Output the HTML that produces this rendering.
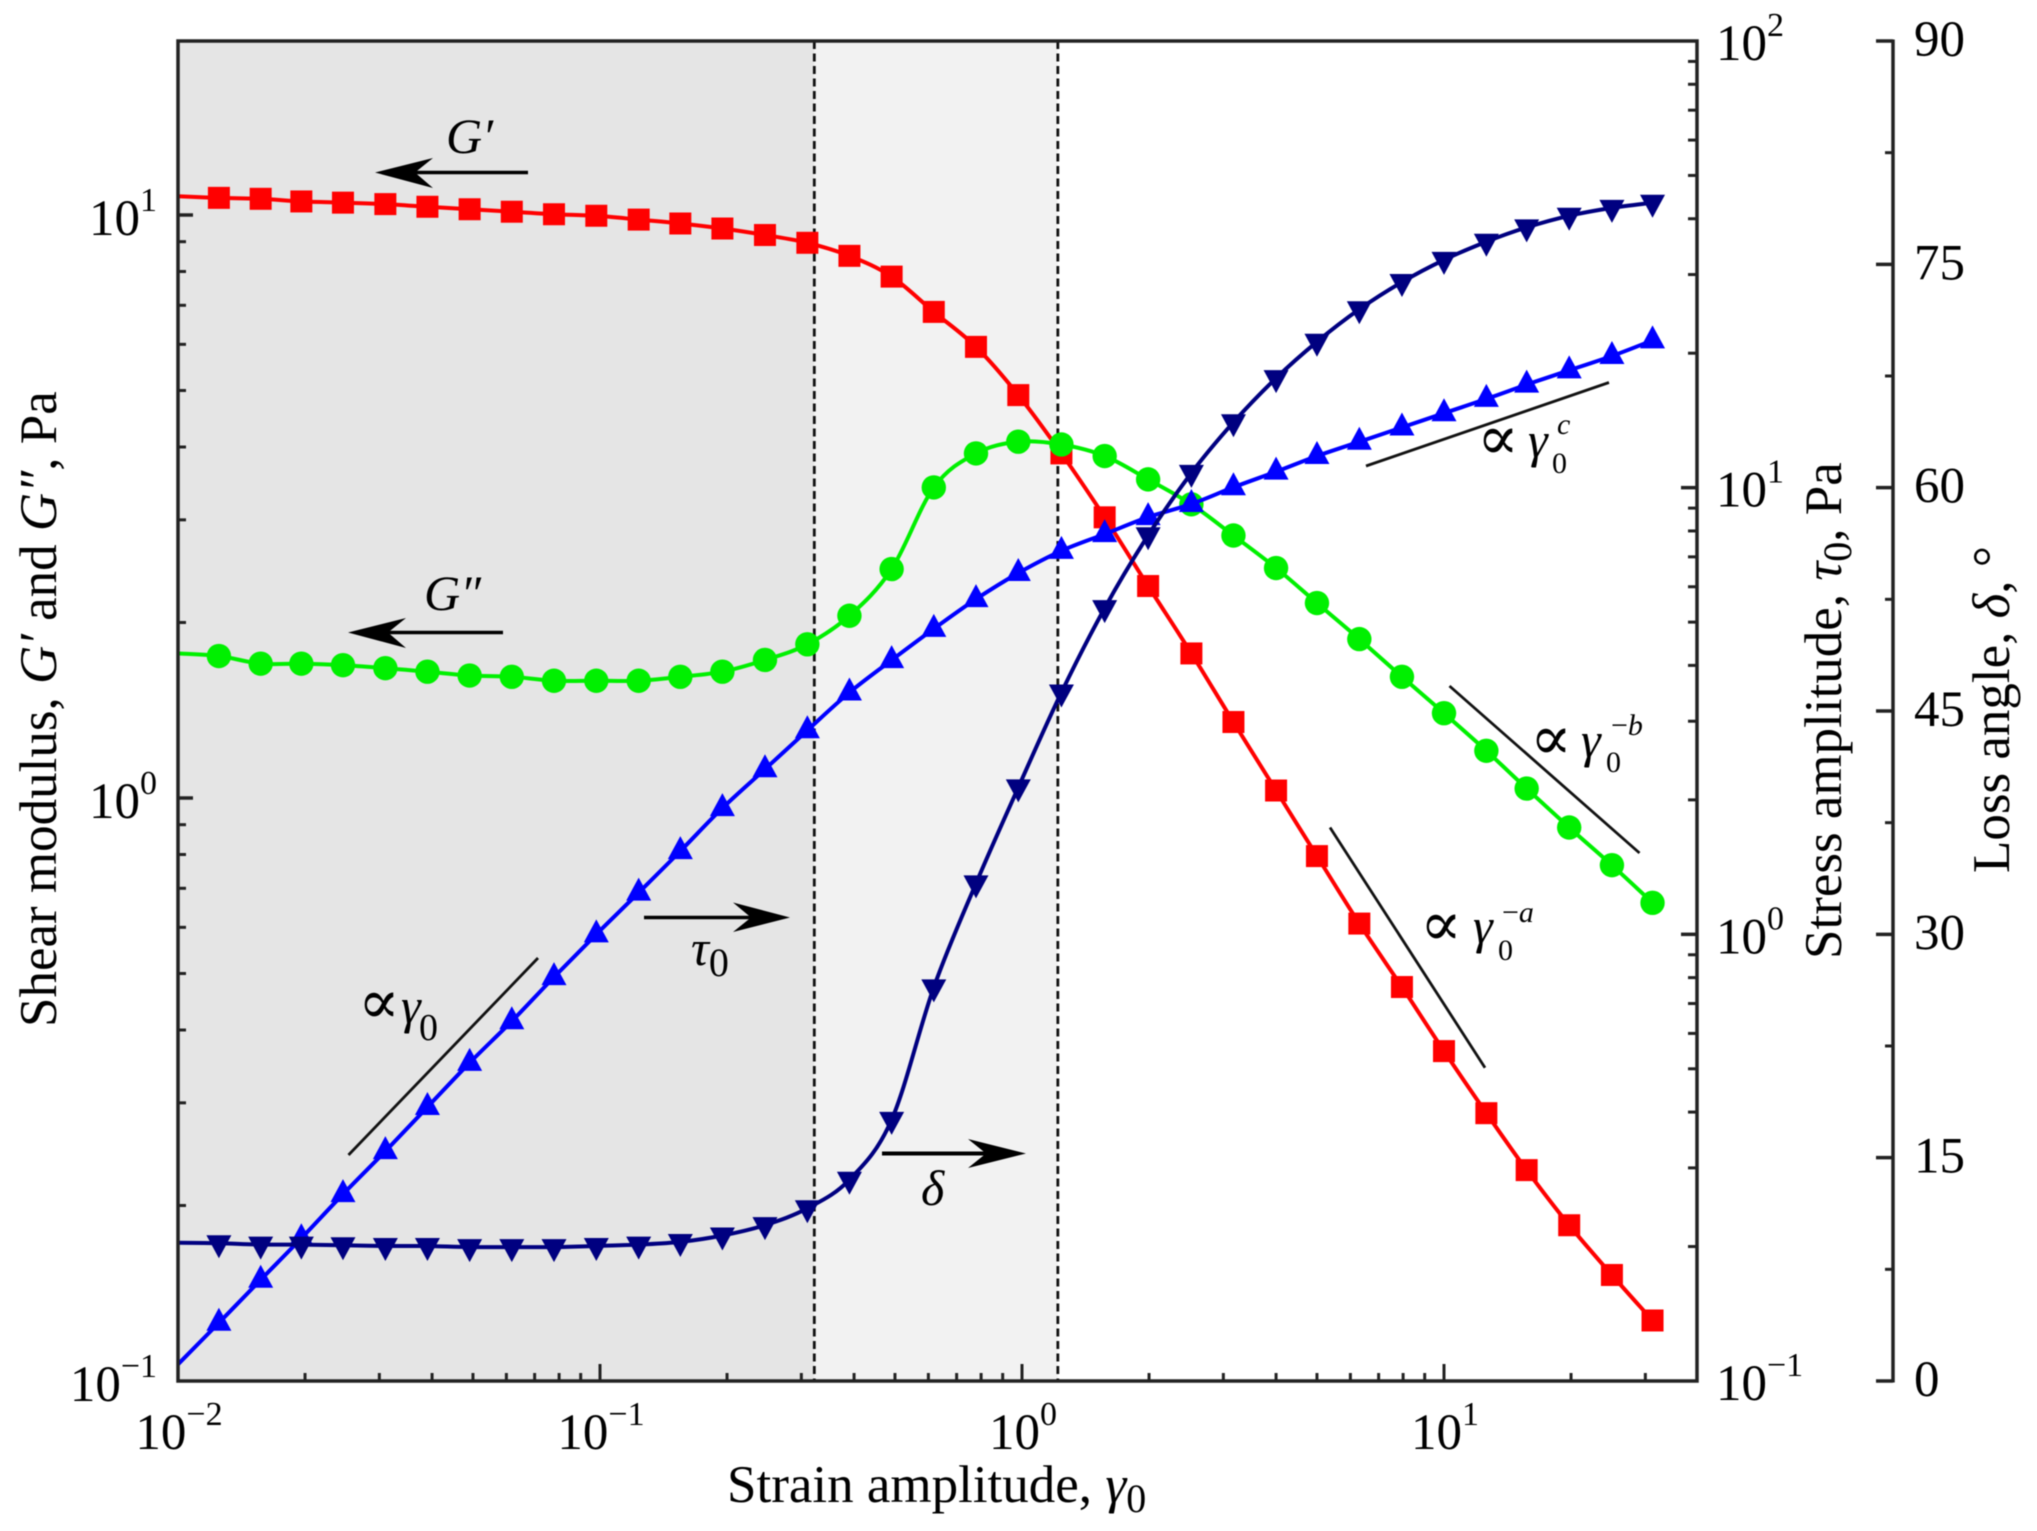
<!DOCTYPE html>
<html lang="en">
<head>
<meta charset="utf-8">
<title>Strain amplitude sweep</title>
<style>
html,body{margin:0;padding:0;background:#fff;}
svg{display:block;filter:blur(0.5px);}
text{font-family:"Liberation Serif","DejaVu Serif",serif;fill:#000;}
.it{font-style:italic;}
</style>
</head>
<body>
<svg id="chart" xmlns="http://www.w3.org/2000/svg" width="2037" height="1531" viewBox="0 0 2037 1531">
  <g id="bands"></g>
  <g id="grid-lines"></g>
  <g id="series"></g>

  <g>
    <g>
      <line x1="528" y1="172.5" x2="400" y2="172.5" stroke="#000" stroke-width="3.5"/>
      <polygon points="375,172.5 433,158 415,172.5 433,188" fill="#000"/>
    </g>
    <text class="it" x="446" y="153" font-size="50">G′</text>

    <g>
      <line x1="503" y1="632.5" x2="375" y2="632.5" stroke="#000" stroke-width="3.5"/>
      <polygon points="348,632.5 406,618 388,632.5 406,648" fill="#000"/>
    </g>
    <text class="it" x="424" y="610" font-size="50">G″</text>

    <g>
      <line x1="644" y1="917.5" x2="765" y2="917.5" stroke="#000" stroke-width="3.5"/>
      <polygon points="790,917.5 733,902.5 751,917.5 733,932" fill="#000"/>
    </g>
    <text x="691" y="965" font-size="50"><tspan class="it">τ</tspan><tspan dy="11" font-size="40">0</tspan></text>

    <g>
      <line x1="882" y1="1153.5" x2="1000" y2="1153.5" stroke="#000" stroke-width="4"/>
      <polygon points="1026,1153.5 968,1139 986,1153.5 968,1168" fill="#000"/>
    </g>
    <text class="it" x="921" y="1205" font-size="50">δ</text>

    <line x1="348.5" y1="1155" x2="538" y2="958" stroke="#111" stroke-width="2.8"/>
    <line x1="1366" y1="466" x2="1609" y2="382.5" stroke="#111" stroke-width="2.8"/>
    <line x1="1449.5" y1="686" x2="1639.5" y2="853" stroke="#111" stroke-width="2.8"/>
    <line x1="1330" y1="827.5" x2="1485" y2="1067.7" stroke="#111" stroke-width="2.8"/>

    <g>
      <text x="358" y="1023" font-size="62">∝</text>
      <text class="it" x="401" y="1023" font-size="50">γ</text>
      <text x="419" y="1040" font-size="38">0</text>
    </g>
    <g>
      <text x="1477" y="459" font-size="62">∝</text>
      <text class="it" x="1528" y="457" font-size="50">γ</text>
      <text x="1552" y="473" font-size="30">0</text>
      <text class="it" x="1557" y="434" font-size="30">c</text>
    </g>
    <g>
      <text x="1530" y="759" font-size="62">∝</text>
      <text class="it" x="1581" y="757" font-size="50">γ</text>
      <text x="1606" y="772" font-size="30">0</text>
      <text x="1611" y="735" font-size="30">−<tspan class="it">b</tspan></text>
    </g>
    <g>
      <text x="1420" y="945" font-size="62">∝</text>
      <text class="it" x="1473" y="943" font-size="50">γ</text>
      <text x="1498" y="960" font-size="30">0</text>
      <text x="1502" y="922" font-size="30">−<tspan class="it">a</tspan></text>
    </g>
  </g>

  <g id="axes"></g>

  <text x="727" y="1502" font-size="53">Strain amplitude, <tspan class="it">γ</tspan><tspan dy="10" font-size="40">0</tspan></text>
  <text transform="translate(56,1027) rotate(-90)" font-size="53">Shear modulus, <tspan class="it">G′</tspan> and <tspan class="it">G″</tspan>, Pa</text>
  <text transform="translate(1841,959) rotate(-90)" font-size="53">Stress amplitude, <tspan class="it">τ</tspan><tspan dy="10" font-size="40">0</tspan><tspan dy="-10">, Pa</tspan></text>
  <text transform="translate(2009,873) rotate(-90)" font-size="53">Loss angle, <tspan class="it">δ</tspan>, °</text>
</svg>

<script>
// ---- chart data ----
const strain = [0.0125,0.0157,0.0196,0.0246,0.031,0.039,0.0491,0.0618,0.0778,0.098,0.1235,0.155,0.195,0.246,0.31,0.39,0.491,0.618,0.778,0.98,1.24,1.57,1.99,2.52,3.17,4.0,5.0,6.3,7.95,10.0,12.6,15.7,19.8,25.0,31.2];
const lineStartStrain = 0.01;
const gPrime = [10.7,10.66,10.55,10.5,10.44,10.33,10.23,10.13,10.03,9.97,9.82,9.67,9.48,9.24,8.96,8.51,7.84,6.82,5.94,4.91,3.9,3.03,2.31,1.77,1.35,1.03,0.795,0.609,0.474,0.368,0.288,0.23,0.185,0.152,0.127];
const gDoublePrime = [1.752,1.7,1.7,1.69,1.67,1.647,1.622,1.614,1.589,1.589,1.589,1.614,1.647,1.725,1.835,2.054,2.47,3.41,3.9,4.085,4.04,3.86,3.52,3.19,2.82,2.48,2.16,1.873,1.614,1.398,1.205,1.038,0.89,0.767,0.661];
const stressAmp = [0.135,0.1685,0.2087,0.262,0.327,0.4105,0.5156,0.639,0.802,1.0,1.24,1.536,1.917,2.342,2.863,3.478,4.11,4.83,5.63,6.44,7.22,7.87,8.59,9.19,10.02,10.86,11.77,12.67,13.64,14.68,15.8,17.01,18.31,19.71,21.37];
const lossAngle = [9.25,9.16,9.16,9.12,9.07,9.07,8.99,8.99,8.99,9.07,9.16,9.34,9.77,10.47,11.6,13.52,17.54,26.44,33.42,39.87,46.24,51.91,56.8,60.99,64.39,67.36,69.8,71.98,73.81,75.3,76.52,77.48,78.26,78.79,79.14];
const gPrimeStart = 10.77;
const gDoublePrimeStart = 1.77;
const stressStart = 0.109;
const lossStart = 9.29;
const regionBoundaries = [0.322, 1.216];
const xDecades = [-2,-1,0,1];
const leftDecades = [-1,0,1];
const stressDecades = [-1,0,1,2];
const lossTicks = [0,15,30,45,60,75,90];
const lossMinorTicks = [7.5,22.5,37.5,52.5,67.5,82.5];

// ---- axis functions ----
const X0 = 178, XR = 1697, YT = 41, YB = 1381;
const SVGNS = 'http://www.w3.org/2000/svg';
function xScale(g){ return X0 + 422*(Math.log10(g)+2); }
function yLeft(v){ return YB - 583*(Math.log10(v)+1); }
function yStress(v){ return YB - 446.67*(Math.log10(v)+1); }
function yLoss(d){ return YB - (YB-YT)*d/90; }

function mk(tag, attrs, parent){
  const el = document.createElementNS(SVGNS, tag);
  for (const k in attrs) el.setAttribute(k, attrs[k]);
  parent.appendChild(el);
  return el;
}

// ---- regions ----
const bands = document.getElementById('bands');
const b0 = mk('rect',{x:X0,y:YT,width:xScale(regionBoundaries[0])-X0,height:YB-YT,fill:'#e5e5e5'},bands);


const b1 = mk('rect',{x:xScale(regionBoundaries[0]),y:YT,width:xScale(regionBoundaries[1])-xScale(regionBoundaries[0]),height:YB-YT,fill:'#f2f2f2'},bands);



const gl = document.getElementById('grid-lines');
regionBoundaries.forEach(function(g){
  const l = mk('line',{x1:xScale(g),x2:xScale(g),y1:YT,y2:YB,stroke:'#111','stroke-width':2.8,'stroke-dasharray':'8 4.5'},gl);
  
  
});

// ---- series ----
function smoothPath(pts){
  let d = 'M'+pts[0][0].toFixed(1)+' '+pts[0][1].toFixed(1);
  for (let i=0;i<pts.length-1;i++){
    const p0=pts[Math.max(i-1,0)],p1=pts[i],p2=pts[i+1],p3=pts[Math.min(i+2,pts.length-1)];
    const c1x=p1[0]+(p2[0]-p0[0])/6,c1y=p1[1]+(p2[1]-p0[1])/6;
    const c2x=p2[0]-(p3[0]-p1[0])/6,c2y=p2[1]-(p3[1]-p1[1])/6;
    d+='C'+c1x.toFixed(1)+' '+c1y.toFixed(1)+' '+c2x.toFixed(1)+' '+c2y.toFixed(1)+' '+p2[0].toFixed(1)+' '+p2[1].toFixed(1);
  }
  return d;
}
function drawMarker(shape,x,y,color,parent){
  if (shape==='square') return mk('rect',{x:x-11,y:y-11,width:22,height:22,fill:color},parent);
  if (shape==='circle') return mk('circle',{cx:x,cy:y,r:12.2,fill:color},parent);
  if (shape==='up') return mk('polygon',{points:(x)+','+(y-15)+' '+(x+12.5)+','+(y+8)+' '+(x-12.5)+','+(y+8),fill:color},parent);
  return mk('polygon',{points:(x)+','+(y+15)+' '+(x+12.5)+','+(y-8)+' '+(x-12.5)+','+(y-8),fill:color},parent);
}
function drawSeries(name,values,start,yFn,color,shape,lw){
  const root = document.getElementById('series');
  const g = mk('g',{},root);
  
  
  const pts = [[xScale(lineStartStrain),yFn(start)]];
  strain.forEach(function(s,i){ pts.push([xScale(s),yFn(values[i])]); });
  const path = mk('path',{d:smoothPath(pts),fill:'none',stroke:color,'stroke-width':lw},g);
  
  
  strain.forEach(function(s,i){
    const m = drawMarker(shape,xScale(s),yFn(values[i]),color,g);
    
    
  });
}
drawSeries('storage-modulus-series',gPrime,gPrimeStart,yLeft,'#ff0000','square',4);
drawSeries('loss-modulus-series',gDoublePrime,gDoublePrimeStart,yLeft,'#00f000','circle',4);
drawSeries('stress-amplitude-series',stressAmp,stressStart,yStress,'#0000ff','up',4);
drawSeries('loss-angle-series',lossAngle,lossStart,yLoss,'#000080','down',4);

// ---- axes ----
const axes = document.getElementById('axes');
const frame = mk('rect',{x:X0,y:YT,width:XR-X0,height:YB-YT,fill:'none',stroke:'#222','stroke-width':3.5},axes);


const lossLine = mk('line',{x1:1893,x2:1893,y1:YT-1.5,y2:YB+1.5,stroke:'#222','stroke-width':3.5},axes);



function tick(x1,y1,x2,y2,w,name){
  const t = mk('line',{x1:x1,y1:y1,x2:x2,y2:y2,stroke:'#222','stroke-width':w},axes);
  
  
}
function powerLabel(x,y,exp,anchor,name){
  const t = mk('text',{x:x,y:y,'font-size':51,'text-anchor':anchor},axes);
  
  
  const base = mk('tspan',{},t);
  base.textContent = '10';
  const sup = mk('tspan',{dy:-24,'font-size':34},t);
  sup.textContent = String(exp).replace('-','−');
}
const minors = [2,3,4,5,6,7,8,9];

xDecades.forEach(function(d){
  const x = xScale(Math.pow(10,d));
  if (d>-2) tick(x,YB,x,YB-17,3,'x-major-tick');
  powerLabel(x+1,1449,d,'middle','x-tick-label');
  minors.forEach(function(m){
    const v = m*Math.pow(10,d);
    if (xScale(v)<XR-2) tick(xScale(v),YB,xScale(v),YB-8,3,'x-minor-tick');
  });
});
leftDecades.forEach(function(d){
  const y = yLeft(Math.pow(10,d));
  if (d>-1) tick(X0,y,X0+15,y,3.5,'left-major-tick');
  powerLabel(157,y+20,d,'end','left-tick-label');
  minors.forEach(function(m){
    const v = m*Math.pow(10,d);
    if (yLeft(v)>YT+2) tick(X0,yLeft(v),X0+8,yLeft(v),3,'left-minor-tick');
  });
});
stressDecades.forEach(function(d){
  const y = yStress(Math.pow(10,d));
  if (d>-1 && d<2) tick(XR,y,XR-16,y,3.5,'stress-major-tick');
  powerLabel(1716,y+19,d,'start','stress-tick-label');
  if (d<2) minors.forEach(function(m){
    const v = m*Math.pow(10,d);
    tick(XR,yStress(v),XR-9,yStress(v),3,'stress-minor-tick');
  });
});
lossTicks.forEach(function(d){
  const y = yLoss(d);
  tick(1893,y,1876,y,3.5,'loss-major-tick');
  const t = mk('text',{x:1914,y:y+15,'font-size':51},axes);
  
  
  t.textContent = d;
});
lossMinorTicks.forEach(function(d){
  tick(1893,yLoss(d),1885,yLoss(d),3,'loss-minor-tick');
});
</script>
</body>
</html>
